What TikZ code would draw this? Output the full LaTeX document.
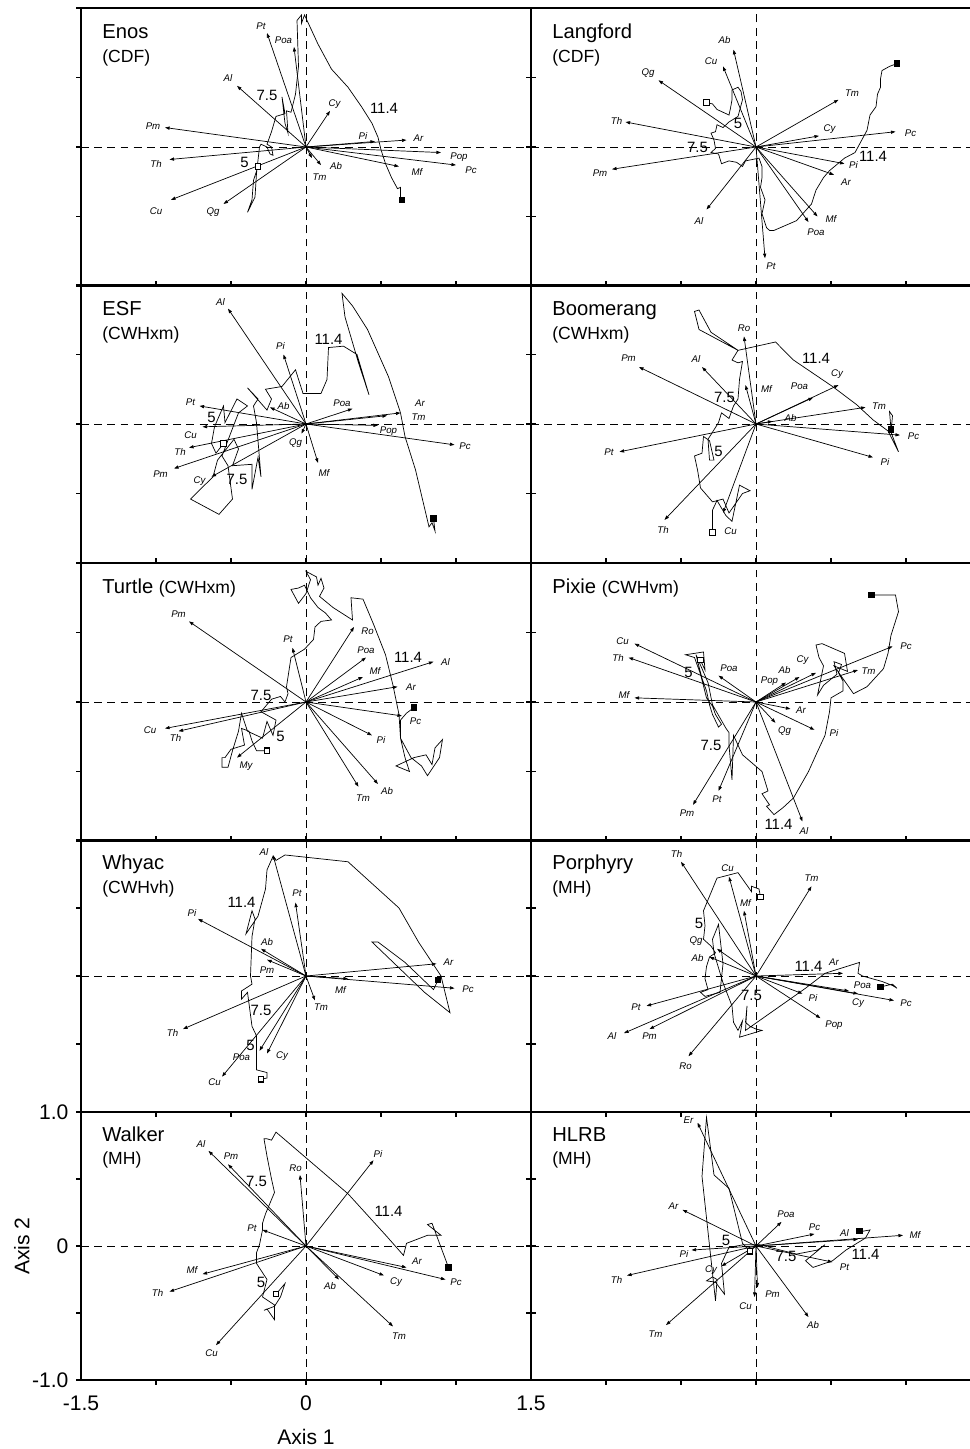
\documentclass[tikz,border=0pt]{standalone}
\usepackage{fontspec}
\setmainfont{Liberation Sans}
\usetikzlibrary{arrows.meta}

\tikzset{
  frame/.style={line width=0.6pt},
  zeroline/.style={line width=0.5pt, dash pattern=on 4.5pt off 3pt},
  vec/.style={line width=0.4pt, -{Triangle[length=2.6pt,width=1.8pt]}},
  track/.style={line width=0.4pt},
  splab/.style={font=\fontsize{5.5}{6}\selectfont\itshape, inner sep=0pt},
  yearlab/.style={font=\fontsize{8.5}{9}\selectfont, inner sep=0pt},
  site/.style={font=\fontsize{11.5}{13}\selectfont, anchor=base west, inner sep=0pt},
  zone/.style={font=\fontsize{10}{12}\selectfont, anchor=base west, inner sep=0pt},
  startmark/.style={draw, fill=white, line width=0.6pt, minimum size=3pt, inner sep=0pt},
  endmark/.style={fill=black, minimum size=3.6pt, inner sep=0pt},
  ticklab/.style={font=\fontsize{12}{14}\selectfont, inner sep=0pt},
}

% #1 = length of the ticks on the lower edge (positive: pointing up)
\newcommand{\drawpanel}[1]{%
  \draw[frame] (-1.5,-1) rectangle (1.5,1);
  \draw[zeroline] (-1.5,0) -- (1.5,0) (0,-1) -- (0,1);
  \foreach \t in {-1,-0.5,0,0.5,1}
    \draw[frame] (\t,-1) -- ++(0pt,#1);
  \foreach \t in {-1,-0.5,0,0.5,1}
    \draw[frame] (-1.5,\t) -- ++(-2.8pt,0pt) (1.5,\t) -- ++(2.8pt,0pt);
}

\begin{document}
\begin{tikzpicture}
\useasboundingbox (0,0) rectangle (19.4,-28.98);

% Enos
\begin{scope}[shift={(6.12,-2.94)}, x=3cm, y=2.78cm]
  \drawpanel{2.8pt}
  \coordinate (en-o) at (0,0);
  \node[site] (en-t) at (-1.36,0.78) {Enos};
  \node[zone] (en-z) at (-1.36,0.61) {(CDF)};
  \foreach \vx/\vy/\lx/\ly/\sp in {-0.26/0.82/-0.30/0.87/Pt, -0.08/0.72/-0.15/0.77/Poa,
      -0.46/0.44/-0.52/0.50/Al, 0.16/0.26/0.19/0.31/Cy, -0.94/0.14/-1.02/0.15/Pm,
      0.46/0.04/0.38/0.08/Pi, 0.67/0.05/0.75/0.06/Ar, 0.90/-0.04/1.02/-0.07/Pop,
      1.00/-0.13/1.10/-0.17/Pc, 0.62/-0.14/0.74/-0.18/Mf, 0.10/-0.13/0.20/-0.14/Ab,
      0.04/-0.08/0.09/-0.22/Tm, -0.91/-0.09/-1.00/-0.12/Th, -0.90/-0.38/-1.00/-0.46/Cu,
      -0.55/-0.41/-0.62/-0.47/Qg}
    \draw[vec] (en-o) -- (\vx,\vy) node[splab] (en-\sp) at (\lx,\ly) {\sp};
  \coordinate (en-s) at (-0.32,-0.14);
  \coordinate (en-e) at (0.64,-0.38);
  \draw[track] (en-s) -- (-0.35,-0.24) -- (-0.36,-0.38) -- (-0.39,-0.47) -- (-0.34,-0.36)
    -- (-0.33,-0.19) -- (-0.31,0.00) -- (-0.30,0.02) -- (-0.26,0.00) -- (-0.24,-0.05)
    -- (-0.22,-0.06) -- (-0.23,0.00) -- (-0.26,0.02) -- (-0.23,0.11) -- (-0.20,0.22)
    -- (-0.14,0.24) -- (-0.16,0.36) -- (-0.14,0.17) -- (-0.12,0.10) -- (-0.13,0.26)
    -- (-0.10,0.25) -- (-0.07,0.38) -- (-0.05,0.58) -- (-0.06,0.91) -- (-0.03,0.95)
    -- (-0.03,0.89) -- (-0.01,0.95) -- (0.08,0.74) -- (0.17,0.56) -- (0.28,0.43)
    -- (0.37,0.29) -- (0.44,0.17) -- (0.48,0.07) -- (0.50,-0.02) -- (0.53,-0.12)
    -- (0.57,-0.22) -- (0.61,-0.30) -- (0.63,-0.29) -- (0.63,-0.36) -- (en-e);
  \node[startmark] (en-first) at (en-s) {};
  \node[endmark] (en-last) at (en-e) {};
  \node[yearlab] (en-y5) at (-0.41,-0.11) {5};
  \node[yearlab] (en-y75) at (-0.26,0.37) {7.5};
  \node[yearlab] (en-y114) at (0.52,0.28) {11.4};
\end{scope}

% Langford
\begin{scope}[shift={(15.12,-2.94)}, x=3cm, y=2.78cm]
  \drawpanel{2.8pt}
  \coordinate (la-o) at (0,0);
  \node[site] (la-t) at (-1.36,0.78) {Langford};
  \node[zone] (la-z) at (-1.36,0.61) {(CDF)};
  \foreach \vx/\vy/\lx/\ly/\sp in {-0.15/0.70/-0.21/0.77/Ab, -0.22/0.58/-0.30/0.62/Cu,
      -0.65/0.48/-0.72/0.53/Qg, 0.55/0.34/0.64/0.39/Tm, -0.87/0.18/-0.93/0.19/Th,
      0.42/0.08/0.49/0.13/Cy, 0.93/0.11/1.03/0.10/Pc, -0.96/-0.16/-1.04/-0.19/Pm,
      0.59/-0.12/0.65/-0.13/Pi, 0.52/-0.20/0.60/-0.25/Ar, -0.33/-0.45/-0.38/-0.53/Al,
      0.41/-0.50/0.50/-0.52/Mf, 0.35/-0.54/0.40/-0.61/Poa, 0.06/-0.80/0.10/-0.86/Pt}
    \draw[vec] (la-o) -- (\vx,\vy) node[splab] (la-\sp) at (\lx,\ly) {\sp};
  \coordinate (la-s) at (-0.33,0.32);
  \coordinate (la-e) at (0.94,0.60);
  \draw[track] (la-s) -- (-0.29,0.31) -- (-0.26,0.27) -- (-0.18,0.23) -- (-0.17,0.28)
    -- (-0.16,0.34) -- (-0.16,0.41) -- (-0.12,0.43) -- (-0.10,0.40) -- (-0.09,0.34)
    -- (-0.12,0.22) -- (-0.18,0.18) -- (-0.22,0.14) -- (-0.26,0.16) -- (-0.27,0.11)
    -- (-0.30,0.10) -- (-0.28,0.05) -- (-0.27,-0.01) -- (-0.30,-0.04) -- (-0.25,-0.05)
    -- (-0.23,-0.12) -- (-0.18,-0.10) -- (-0.13,-0.11) -- (-0.09,-0.14) -- (-0.07,-0.10)
    -- (0.02,-0.08) -- (0.04,-0.14) -- (0.04,-0.22) -- (0.03,-0.29) -- (0.06,-0.38)
    -- (0.04,-0.48) -- (0.07,-0.58) -- (0.09,-0.60) -- (0.12,-0.60) -- (0.27,-0.53)
    -- (0.37,-0.41) -- (0.40,-0.31) -- (0.45,-0.22) -- (0.49,-0.17) -- (0.59,-0.08)
    -- (0.66,-0.04) -- (0.68,0.00) -- (0.71,0.06) -- (0.74,0.12) -- (0.76,0.23)
    -- (0.80,0.29) -- (0.81,0.38) -- (0.83,0.43) -- (0.83,0.49) -- (0.84,0.55)
    -- (0.89,0.58) -- (la-e);
  \node[startmark] (la-first) at (la-s) {};
  \node[endmark] (la-last) at (la-e) {};
  \node[yearlab] (la-y5) at (-0.12,0.17) {5};
  \node[yearlab] (la-y75) at (-0.39,0.00) {7.5};
  \node[yearlab] (la-y114) at (0.78,-0.07) {11.4};
\end{scope}

% ESF
\begin{scope}[shift={(6.12,-8.48)}, x=3cm, y=2.78cm]
  \drawpanel{2.8pt}
  \coordinate (es-o) at (0,0);
  \node[site] (es-t) at (-1.36,0.78) {ESF};
  \node[zone] (es-z) at (-1.36,0.61) {(CWHxm)};
  \foreach \vx/\vy/\lx/\ly/\sp in {-0.52/0.83/-0.57/0.88/Al, -0.15/0.50/-0.17/0.56/Pi,
      -0.71/0.13/-0.77/0.16/Pt, -0.24/0.12/-0.15/0.13/Ab, 0.31/0.11/0.24/0.15/Poa,
      0.63/0.08/0.76/0.15/Ar, 0.54/0.06/0.75/0.05/Tm, 0.48/-0.01/0.55/-0.05/Pop,
      0.99/-0.15/1.06/-0.16/Pc, -0.69/-0.02/-0.77/-0.08/Cu, -0.78/-0.17/-0.84/-0.20/Th,
      -0.88/-0.32/-0.97/-0.36/Pm, -0.63/-0.38/-0.71/-0.41/Cy, -0.03/-0.07/-0.07/-0.14/Qg,
      0.08/-0.28/0.12/-0.35/Mf}
    \draw[vec] (es-o) -- (\vx,\vy) node[splab] (es-\sp) at (\lx,\ly) {\sp};
  \coordinate (es-s) at (-0.55,-0.14);
  \coordinate (es-e) at (0.85,-0.68);
  \draw[track] (es-s) -- (-0.60,-0.21) -- (-0.63,-0.14) -- (-0.61,-0.02) -- (-0.55,0.13)
    -- (-0.54,0.01) -- (-0.46,0.18) -- (-0.39,0.13) -- (-0.45,0.08) -- (-0.50,-0.06)
    -- (-0.56,-0.23) -- (-0.52,-0.30) -- (-0.49,-0.54) -- (-0.58,-0.65) -- (-0.77,-0.54)
    -- (-0.62,-0.38) -- (-0.59,-0.26) -- (-0.48,-0.11) -- (-0.45,-0.18) -- (-0.49,-0.30)
    -- (-0.36,-0.29) -- (-0.36,-0.47) -- (-0.32,-0.24) -- (-0.30,-0.38) -- (-0.33,0.01)
    -- (-0.35,0.13) -- (-0.32,0.18) -- (-0.39,0.26) -- (-0.26,0.10) -- (-0.23,0.18)
    -- (-0.27,0.25) -- (-0.16,0.27) -- (-0.07,0.39) -- (-0.02,0.22) -- (0.10,0.22)
    -- (0.14,0.32) -- (0.15,0.55) -- (0.25,0.56) -- (0.34,0.50) -- (0.42,0.21)
    -- (0.35,0.44) -- (0.26,0.77) -- (0.24,0.94) -- (0.31,0.85) -- (0.41,0.68)
    -- (0.55,0.34) -- (0.63,0.08) -- (0.66,-0.09) -- (0.73,-0.33) -- (0.82,-0.74)
    -- (0.84,-0.71) -- (0.86,-0.77) -- (es-e);
  \node[startmark] (es-first) at (es-s) {};
  \node[endmark] (es-last) at (es-e) {};
  \node[yearlab] (es-y5) at (-0.63,0.05) {5};
  \node[yearlab] (es-y75) at (-0.46,-0.40) {7.5};
  \node[yearlab] (es-y114) at (0.15,0.61) {11.4};
\end{scope}

% Boomerang
\begin{scope}[shift={(15.12,-8.48)}, x=3cm, y=2.78cm]
  \drawpanel{2.8pt}
  \coordinate (bo-o) at (0,0);
  \node[site] (bo-t) at (-1.36,0.78) {Boomerang};
  \node[zone] (bo-z) at (-1.36,0.61) {(CWHxm)};
  \foreach \vx/\vy/\lx/\ly/\sp in {-0.08/0.63/-0.08/0.69/Ro, -0.78/0.41/-0.85/0.47/Pm,
      -0.36/0.41/-0.40/0.47/Al, -0.07/0.28/0.07/0.25/Mf, 0.38/0.19/0.29/0.27/Poa,
      0.55/0.28/0.54/0.36/Cy, 0.73/0.12/0.82/0.13/Tm, 0.11/0.02/0.23/0.04/Ab,
      0.96/-0.08/1.05/-0.09/Pc, 0.78/-0.24/0.86/-0.27/Pi, -0.91/-0.20/-0.98/-0.20/Pt,
      -0.61/-0.69/-0.62/-0.76/Th, -0.22/-0.64/-0.17/-0.77/Cu}
    \draw[vec] (bo-o) -- (\vx,\vy) node[splab] (bo-\sp) at (\lx,\ly) {\sp};
  \coordinate (bo-s) at (-0.29,-0.78);
  \coordinate (bo-e) at (0.90,-0.04);
  \draw[track] (bo-s) -- (-0.29,-0.62) -- (-0.26,-0.55) -- (-0.20,-0.66) -- (-0.16,-0.70)
    -- (-0.11,-0.44) -- (-0.04,-0.48) -- (-0.09,-0.50) -- (-0.18,-0.64) -- (-0.22,-0.54)
    -- (-0.29,-0.56) -- (-0.37,-0.46) -- (-0.39,-0.33) -- (-0.41,-0.23) -- (-0.36,-0.21)
    -- (-0.35,-0.09) -- (-0.31,-0.12) -- (-0.28,-0.26) -- (-0.31,-0.26) -- (-0.32,-0.11)
    -- (-0.25,0.01) -- (-0.23,0.08) -- (-0.18,0.04) -- (-0.15,0.13) -- (-0.12,0.18)
    -- (-0.11,0.32) -- (-0.09,0.45) -- (-0.12,0.44) -- (-0.16,0.46) -- (-0.12,0.53)
    -- (-0.38,0.68) -- (-0.41,0.81) -- (-0.38,0.82) -- (-0.30,0.66) -- (-0.12,0.53)
    -- (0.13,0.59) -- (0.25,0.46) -- (0.51,0.27) -- (0.67,0.14) -- (0.78,0.03)
    -- (0.88,-0.05) -- (0.95,-0.20) -- (0.90,-0.06) -- (0.91,0.06) -- (0.89,0.09)
    -- (bo-e);
  \node[startmark] (bo-first) at (bo-s) {};
  \node[endmark] (bo-last) at (bo-e) {};
  \node[yearlab] (bo-y5) at (-0.25,-0.20) {5};
  \node[yearlab] (bo-y75) at (-0.21,0.19) {7.5};
  \node[yearlab] (bo-y114) at (0.40,0.47) {11.4};
\end{scope}

% Turtle
\begin{scope}[shift={(6.12,-14.04)}, x=3cm, y=2.78cm]
  \drawpanel{2.8pt}
  \coordinate (tu-o) at (0,0);
  \node[site] (tu-t) at (-1.36,0.78) {Turtle {\fontsize{10}{12}\selectfont(CWHxm)}};
  \foreach \vx/\vy/\lx/\ly/\sp in {-0.78/0.58/-0.85/0.63/Pm, -0.09/0.39/-0.12/0.45/Pt,
      0.32/0.54/0.41/0.51/Ro, 0.40/0.32/0.40/0.37/Poa, 0.38/0.18/0.46/0.22/Mf,
      0.85/0.29/0.93/0.29/Al, 0.61/0.11/0.70/0.11/Ar, 0.64/-0.10/0.73/-0.14/Pc,
      0.44/-0.24/0.50/-0.27/Pi, 0.48/-0.59/0.54/-0.64/Ab, 0.35/-0.61/0.38/-0.69/Tm,
      -0.94/-0.19/-1.04/-0.20/Cu, -0.85/-0.21/-0.87/-0.26/Th, -0.46/-0.40/-0.40/-0.46/My}
    \draw[vec] (tu-o) -- (\vx,\vy) node[splab] (tu-\sp) at (\lx,\ly) {\sp};
  \coordinate (tu-s) at (-0.26,-0.35);
  \coordinate (tu-e) at (0.72,-0.04);
  \draw[track] (tu-s) -- (-0.33,-0.35) -- (-0.36,-0.28) -- (-0.38,-0.21) -- (-0.43,-0.19)
    -- (-0.41,-0.31) -- (-0.50,-0.34) -- (-0.54,-0.40) -- (-0.56,-0.40) -- (-0.56,-0.47)
    -- (-0.52,-0.47) -- (-0.49,-0.35) -- (-0.45,-0.21) -- (-0.43,-0.08) -- (-0.39,-0.21)
    -- (-0.29,-0.26) -- (-0.26,-0.14) -- (-0.22,-0.24) -- (-0.20,-0.13) -- (-0.30,-0.07)
    -- (-0.23,0.02) -- (-0.17,0.04) -- (-0.14,0.00) -- (-0.12,0.06) -- (-0.13,0.11)
    -- (-0.10,0.32) -- (-0.01,0.38) -- (0.05,0.45) -- (0.06,0.54) -- (0.10,0.58)
    -- (0.17,0.59) -- (0.13,0.64) -- (0.08,0.68) -- (0.03,0.75) -- (-0.01,0.84)
    -- (-0.05,0.82) -- (-0.10,0.81) -- (-0.05,0.71) -- (0.00,0.78) -- (0.03,0.88)
    -- (0.00,0.94) -- (0.07,0.90) -- (0.08,0.84) -- (0.10,0.89) -- (0.12,0.82)
    -- (0.09,0.76) -- (0.18,0.68) -- (0.31,0.59) -- (0.30,0.75) -- (0.38,0.74)
    -- (0.45,0.56) -- (0.53,0.34) -- (0.58,0.12) -- (0.62,-0.09) -- (0.63,-0.26)
    -- (0.66,-0.40) -- (0.69,-0.50) -- (0.60,-0.46) -- (0.72,-0.40) -- (0.80,-0.38)
    -- (0.84,-0.45) -- (0.86,-0.33) -- (0.91,-0.27) -- (0.89,-0.40) -- (0.81,-0.53)
    -- (0.77,-0.46) -- (0.70,-0.40) -- (0.63,-0.26) -- (0.63,-0.13) -- (0.67,-0.08)
    -- (tu-e);
  \node[startmark] (tu-first) at (tu-s) {};
  \node[endmark] (tu-last) at (tu-e) {};
  \node[yearlab] (tu-y5) at (-0.17,-0.25) {5};
  \node[yearlab] (tu-y75) at (-0.30,0.05) {7.5};
  \node[yearlab] (tu-y114) at (0.68,0.32) {11.4};
\end{scope}

% Pixie
\begin{scope}[shift={(15.12,-14.04)}, x=3cm, y=2.78cm]
  \drawpanel{2.8pt}
  \coordinate (pi-o) at (0,0);
  \node[site] (pi-t) at (-1.36,0.78) {Pixie {\fontsize{10}{12}\selectfont(CWHvm)}};
  \foreach \vx/\vy/\lx/\ly/\sp in {-0.81/0.42/-0.89/0.44/Cu, -0.85/0.32/-0.92/0.32/Th,
      -0.25/0.19/-0.18/0.24/Poa, -0.81/0.03/-0.88/0.05/Mf, 0.20/0.14/0.09/0.15/Pop,
      0.29/0.18/0.19/0.23/Ab, 0.40/0.21/0.31/0.30/Cy, 0.68/0.23/0.75/0.22/Tm,
      0.91/0.40/1.00/0.40/Pc, 0.23/-0.05/0.30/-0.06/Ar, 0.13/-0.15/0.19/-0.21/Qg,
      0.39/-0.20/0.52/-0.22/Pi, -0.42/-0.74/-0.46/-0.80/Pm, -0.25/-0.64/-0.26/-0.70/Pt,
      0.31/-0.86/0.32/-0.93/Al}
    \draw[vec] (pi-o) -- (\vx,\vy) node[splab] (pi-\sp) at (\lx,\ly) {\sp};
  \coordinate (pi-s) at (-0.37,0.30);
  \coordinate (pi-e) at (0.77,0.77);
  \draw[track] (pi-s) -- (-0.34,0.23) -- (-0.35,0.36) -- (-0.41,0.35) -- (-0.47,0.34)
    -- (-0.41,0.32) -- (-0.37,0.20) -- (-0.33,0.03) -- (-0.29,-0.03) -- (-0.27,-0.09)
    -- (-0.23,-0.16) -- (-0.25,-0.18) -- (-0.29,-0.09) -- (-0.31,-0.02) -- (-0.33,0.08)
    -- (-0.36,0.17) -- (-0.40,0.34) -- (-0.38,0.29) -- (-0.32,0.14) -- (-0.29,-0.02)
    -- (-0.20,-0.19) -- (-0.18,-0.22) -- (-0.18,-0.31) -- (-0.16,-0.56) -- (-0.15,-0.24)
    -- (-0.09,-0.38) -- (0.04,-0.50) -- (0.08,-0.64) -- (0.04,-0.66) -- (0.09,-0.74)
    -- (0.07,-0.75) -- (0.12,-0.81) -- (0.18,-0.76) -- (0.25,-0.69) -- (0.35,-0.50)
    -- (0.40,-0.38) -- (0.46,-0.24) -- (0.49,-0.07) -- (0.50,0.03) -- (0.58,0.08)
    -- (0.58,0.15) -- (0.55,0.21) -- (0.57,0.27) -- (0.52,0.29) -- (0.54,0.20)
    -- (0.45,0.12) -- (0.41,0.05) -- (0.45,0.26) -- (0.42,0.32) -- (0.40,0.41)
    -- (0.44,0.42) -- (0.59,0.35) -- (0.61,0.22) -- (0.52,0.26) -- (0.65,0.06)
    -- (0.74,0.11) -- (0.85,0.24) -- (0.88,0.35) -- (0.90,0.48) -- (0.95,0.65)
    -- (0.93,0.77) -- (pi-e);
  \node[startmark] (pi-first) at (pi-s) {};
  \node[endmark] (pi-last) at (pi-e) {};
  \node[yearlab] (pi-y5) at (-0.45,0.21) {5};
  \node[yearlab] (pi-y75) at (-0.30,-0.31) {7.5};
  \node[yearlab] (pi-y114) at (0.15,-0.88) {11.4};
\end{scope}

% Whyac
\begin{scope}[shift={(6.12,-19.52)}, x=3cm, y=2.72cm]
  \drawpanel{-2.8pt}
  \coordinate (wh-o) at (0,0);
  \node[site] (wh-t) at (-1.36,0.78) {Whyac};
  \node[zone] (wh-z) at (-1.36,0.61) {(CWHvh)};
  \foreach \vx/\vy/\lx/\ly/\sp in {-0.22/0.89/-0.28/0.91/Al, -0.07/0.54/-0.06/0.61/Pt,
      -0.72/0.42/-0.76/0.46/Pi, -0.30/0.20/-0.26/0.25/Ab, -0.26/0.12/-0.26/0.04/Pm,
      0.87/0.09/0.95/0.10/Ar, 0.28/-0.02/0.23/-0.10/Mf, 0.99/-0.09/1.08/-0.10/Pc,
      0.06/-0.18/0.10/-0.23/Tm, -0.82/-0.39/-0.89/-0.42/Th, -0.56/-0.74/-0.61/-0.78/Cu,
      -0.31/-0.55/-0.43/-0.60/Poa, -0.26/-0.57/-0.16/-0.59/Cy}
    \draw[vec] (wh-o) -- (\vx,\vy) node[splab] (wh-\sp) at (\lx,\ly) {\sp};
  \coordinate (wh-s) at (-0.30,-0.76);
  \coordinate (wh-e) at (0.88,-0.03);
  \draw[track] (wh-s) -- (-0.26,-0.75) -- (-0.26,-0.71) -- (-0.33,-0.69) -- (-0.33,-0.44)
    -- (-0.36,-0.37) -- (-0.39,-0.12) -- (-0.43,-0.17) -- (-0.43,-0.11) -- (-0.36,-0.06)
    -- (-0.37,0.00) -- (-0.36,0.29) -- (-0.34,0.42) -- (-0.36,0.48) -- (-0.40,0.31)
    -- (-0.32,0.44) -- (-0.27,0.64) -- (-0.26,0.78) -- (-0.24,0.83) -- (-0.22,0.88)
    -- (-0.20,0.85) -- (-0.14,0.89) -- (0.28,0.84) -- (0.62,0.50) -- (0.75,0.25)
    -- (0.90,0.00) -- (0.96,-0.27) -- (0.79,-0.12) -- (0.44,0.25) -- (0.48,0.25)
    -- (0.66,0.10) -- (0.85,-0.10) -- (wh-e);
  \node[startmark] (wh-first) at (wh-s) {};
  \node[endmark] (wh-last) at (wh-e) {};
  \node[yearlab] (wh-y5) at (-0.37,-0.51) {5};
  \node[yearlab] (wh-y75) at (-0.30,-0.25) {7.5};
  \node[yearlab] (wh-y114) at (-0.43,0.54) {11.4};
\end{scope}

% Porphyry
\begin{scope}[shift={(15.12,-19.52)}, x=3cm, y=2.72cm]
  \drawpanel{-2.8pt}
  \coordinate (po-o) at (0,0);
  \node[site] (po-t) at (-1.36,0.78) {Porphyry};
  \node[zone] (po-z) at (-1.36,0.61) {(MH)};
  \foreach \vx/\vy/\lx/\ly/\sp in {-0.50/0.84/-0.53/0.90/Th, -0.18/0.73/-0.19/0.79/Cu,
      0.37/0.66/0.37/0.72/Tm, -0.08/0.48/-0.07/0.54/Mf, -0.26/0.20/-0.40/0.26/Qg,
      -0.31/0.14/-0.39/0.13/Ab, 0.58/0.02/0.52/0.10/Ar, 0.62/-0.11/0.71/-0.07/Poa,
      0.68/-0.13/0.68/-0.20/Cy, 0.92/-0.18/1.00/-0.20/Pc, 0.31/-0.13/0.38/-0.16/Pi,
      0.43/-0.31/0.52/-0.36/Pop, -0.73/-0.22/-0.80/-0.23/Pt, -0.88/-0.42/-0.96/-0.44/Al,
      -0.71/-0.39/-0.71/-0.44/Pm, -0.45/-0.59/-0.47/-0.66/Ro}
    \draw[vec] (po-o) -- (\vx,\vy) node[splab] (po-\sp) at (\lx,\ly) {\sp};
  \coordinate (po-s) at (0.03,0.58);
  \coordinate (po-e) at (0.83,-0.08);
  \draw[track] (po-s) -- (0.02,0.64) -- (-0.03,0.66) -- (-0.03,0.62) -- (-0.12,0.76)
    -- (-0.26,0.72) -- (-0.35,0.48) -- (-0.34,0.37) -- (-0.35,0.27) -- (-0.30,0.22)
    -- (-0.27,0.17) -- (-0.31,0.14) -- (-0.33,0.07) -- (-0.34,-0.02) -- (-0.32,-0.10)
    -- (-0.37,-0.12) -- (-0.34,-0.15) -- (-0.24,-0.12) -- (-0.22,0.09) -- (-0.25,0.38)
    -- (-0.29,0.27) -- (-0.28,0.17) -- (-0.22,-0.05) -- (-0.16,-0.22) -- (-0.15,-0.34)
    -- (-0.12,-0.40) -- (-0.09,-0.33) -- (-0.11,-0.45) -- (0.04,-0.40) -- (0.00,-0.39)
    -- (-0.04,-0.37) -- (-0.07,-0.34) -- (-0.06,-0.22) -- (-0.07,-0.40) -- (0.33,-0.09)
    -- (0.46,0.02) -- (0.69,0.10) -- (0.68,0.02) -- (0.71,0.00) -- (0.84,-0.04)
    -- (0.91,-0.07) -- (0.94,-0.09) -- (0.91,-0.06) -- (po-e);
  \node[startmark] (po-first) at (po-s) {};
  \node[endmark] (po-last) at (po-e) {};
  \node[yearlab] (po-y5) at (-0.38,0.39) {5};
  \node[yearlab] (po-y75) at (-0.03,-0.14) {7.5};
  \node[yearlab] (po-y114) at (0.35,0.07) {11.4};
\end{scope}

% Walker, with the axes
\begin{scope}[shift={(6.12,-24.92)}, x=3cm, y=2.68cm]
  \drawpanel{-2.8pt}
  \coordinate (wa-o) at (0,0);
  \node[site] (wa-t) at (-1.36,0.78) {Walker};
  \node[zone] (wa-z) at (-1.36,0.61) {(MH)};
  \foreach \vx/\vy/\lx/\ly/\sp in {-0.65/0.71/-0.70/0.76/Al, -0.52/0.61/-0.50/0.67/Pm,
      -0.04/0.53/-0.07/0.58/Ro, 0.45/0.64/0.48/0.69/Pi, -0.29/0.12/-0.36/0.13/Pt,
      0.67/-0.16/0.74/-0.11/Ar, 0.93/-0.25/1.00/-0.27/Pc, 0.52/-0.22/0.60/-0.27/Cy,
      0.22/-0.25/0.16/-0.30/Ab, 0.58/-0.60/0.62/-0.67/Tm, -0.69/-0.21/-0.76/-0.18/Mf,
      -0.91/-0.34/-0.99/-0.35/Th, -0.60/-0.74/-0.63/-0.80/Cu}
    \draw[vec] (wa-o) -- (\vx,\vy) node[splab] (wa-\sp) at (\lx,\ly) {\sp};
  \coordinate (wa-s) at (-0.20,-0.36);
  \coordinate (wa-e) at (0.95,-0.16);
  \draw[track] (wa-s) -- (-0.14,-0.28) -- (-0.17,-0.38) -- (-0.21,-0.45) -- (-0.28,-0.48)
    -- (-0.26,-0.47) -- (-0.21,-0.55) -- (-0.21,-0.44) -- (-0.29,-0.38) -- (-0.26,-0.25)
    -- (-0.33,-0.13) -- (-0.33,-0.05) -- (-0.31,0.01) -- (-0.29,0.12) -- (-0.29,0.17)
    -- (-0.27,0.24) -- (-0.21,0.40) -- (-0.23,0.50) -- (-0.26,0.67) -- (-0.28,0.80)
    -- (-0.26,0.80) -- (-0.23,0.79) -- (-0.20,0.85) -- (0.28,0.39) -- (0.54,0.07)
    -- (0.65,-0.07) -- (0.67,0.02) -- (0.81,0.08) -- (0.90,0.08) -- (0.81,0.16)
    -- (0.84,0.17) -- (wa-e);
  \node[startmark] (wa-first) at (wa-s) {};
  \node[endmark] (wa-last) at (wa-e) {};
  \node[yearlab] (wa-y5) at (-0.30,-0.27) {5};
  \node[yearlab] (wa-y75) at (-0.33,0.48) {7.5};
  \node[yearlab] (wa-y114) at (0.55,0.26) {11.4};
  \node[ticklab, anchor=east] (yt-top) at ([xshift=-7pt]-1.5,1) {1.0};
  \node[ticklab, anchor=east] (yt-mid) at ([xshift=-7pt]-1.5,0) {0};
  \node[ticklab, anchor=east] (yt-bot) at ([xshift=-7pt]-1.5,-1) {-1.0};
  \node[ticklab, anchor=north] (xt-left) at ([yshift=-9pt]-1.5,-1) {-1.5};
  \node[ticklab, anchor=north] (xt-mid) at ([yshift=-9pt]0,-1) {0};
  \node[ticklab, anchor=north] (xt-right) at ([yshift=-9pt]1.5,-1) {1.5};
  \node[ticklab, anchor=north] (ax1) at ([yshift=-28pt]0,-1) {Axis 1};
  \node[ticklab, rotate=90, anchor=south] (ax2) at ([xshift=-29pt]-1.5,0) {Axis 2};
\end{scope}

% HLRB
\begin{scope}[shift={(15.12,-24.92)}, x=3cm, y=2.68cm]
  \drawpanel{-2.8pt}
  \coordinate (hl-o) at (0,0);
  \node[site] (hl-t) at (-1.36,0.78) {HLRB};
  \node[zone] (hl-z) at (-1.36,0.61) {(MH)};
  \foreach \vx/\vy/\lx/\ly/\sp in {-0.39/0.92/-0.45/0.94/Er, -0.49/0.27/-0.55/0.30/Ar,
      0.17/0.18/0.20/0.24/Poa, 0.39/0.09/0.39/0.14/Pc, 0.68/0.05/0.59/0.10/Al,
      0.98/0.08/1.06/0.08/Mf, 0.51/-0.12/0.59/-0.16/Pt, -0.43/-0.03/-0.48/-0.06/Pi,
      -0.86/-0.22/-0.93/-0.25/Th, -0.23/-0.15/-0.30/-0.18/Cy, -0.60/-0.59/-0.67/-0.66/Tm,
      0.01/-0.31/0.11/-0.36/Pm, -0.01/-0.38/-0.07/-0.45/Cu, 0.35/-0.53/0.38/-0.59/Ab}
    \draw[vec] (hl-o) -- (\vx,\vy) node[splab] (hl-\sp) at (\lx,\ly) {\sp};
  \coordinate (hl-s) at (-0.04,-0.04);
  \coordinate (hl-e) at (0.69,0.11);
  \draw[track] (hl-s) -- (-0.09,0.02) -- (-0.18,0.43) -- (-0.28,0.53) -- (-0.33,0.96)
    -- (-0.36,0.52) -- (-0.27,-0.41) -- (-0.26,-0.25) -- (-0.29,-0.23) -- (-0.33,-0.26)
    -- (-0.27,-0.27) -- (-0.21,-0.36) -- (-0.23,-0.13) -- (-0.18,-0.01) -- (-0.08,0.01)
    -- (0.02,0.01) -- (0.27,-0.06) -- (0.41,-0.03) -- (0.46,0.01) -- (0.33,-0.11)
    -- (0.38,-0.16) -- (0.51,-0.11) -- (0.60,-0.03) -- (0.73,0.06) -- (0.76,0.12)
    -- (0.71,0.11) -- (hl-e);
  \node[startmark] (hl-first) at (hl-s) {};
  \node[endmark] (hl-last) at (hl-e) {};
  \node[yearlab] (hl-y5) at (-0.20,0.04) {5};
  \node[yearlab] (hl-y75) at (0.20,-0.08) {7.5};
  \node[yearlab] (hl-y114) at (0.73,-0.06) {11.4};
\end{scope}
\end{tikzpicture}
\end{document}
